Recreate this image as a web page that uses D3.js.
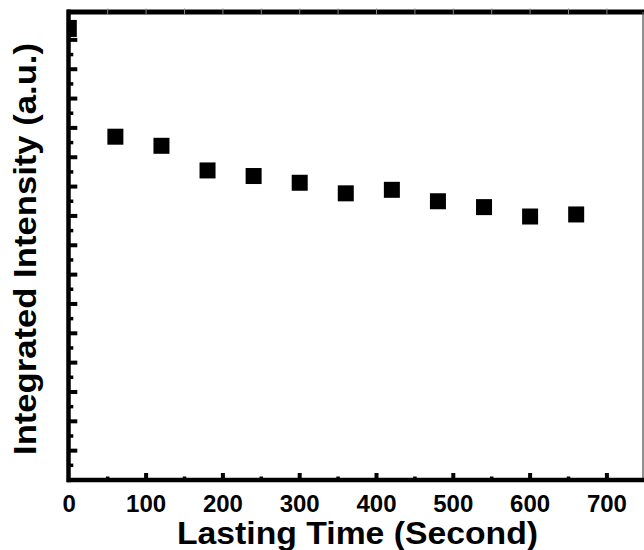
<!DOCTYPE html>
<html><head><meta charset="utf-8">
<script src="https://cdn.jsdelivr.net/npm/d3@7"></script>
<style>html,body{margin:0;padding:0;background:#fff;}svg{display:block;}</style>
</head><body>
<svg id="c" width="644" height="550"></svg>
<script>
const times = [60,120,180,240,300,360,420,480,540,600,660];
const intensity = [11.70,11.39,10.55,10.36,10.13,9.77,9.89,9.50,9.30,8.98,9.05];
const xTickValues = [0,100,200,300,400,500,600,700];
const xLabel = "Lasting Time (Second)";
const yLabel = "Integrated Intensity (a.u.)";

const svg = d3.select("#c");
const x = d3.scaleLinear().domain([0,747]).range([69.3,643]);
const y = d3.scaleLinear().domain([0,15.95]).range([480,12]);
const FONT = "'Liberation Sans', Arial, Helvetica, sans-serif";

// frame: top thick, right thin gray
svg.append("line").attr("x1",x(0)-2).attr("x2",644).attr("y1",y(15.95)).attr("y2",y(15.95))
  .attr("stroke","#000").attr("stroke-width",5);
// faint top ticks
const topTicks = d3.range(50,747,50);
svg.append("g").selectAll("line").data(topTicks).join("line")
  .attr("x1",d=>x(d)).attr("x2",d=>x(d)).attr("y1",y(15.95)-3.5).attr("y2",y(15.95)+2.5)
  .attr("stroke","#888").attr("stroke-width",1);
svg.append("line").attr("x1",x(747)).attr("x2",x(747)).attr("y1",y(15.95)).attr("y2",y(0))
  .attr("stroke","#555").attr("stroke-width",1.3);

// bottom axis
const xMajor = d3.range(0,747,100), xMinor = d3.range(50,747,100);
svg.append("g").selectAll("line").data(xMajor.filter(d=>d>0)).join("line")
  .attr("x1",d=>x(d)).attr("x2",d=>x(d)).attr("y1",y(0)).attr("y2",y(0)-7)
  .attr("stroke","#000").attr("stroke-width",4);
svg.append("g").selectAll("line").data(xMinor).join("line")
  .attr("x1",d=>x(d)).attr("x2",d=>x(d)).attr("y1",y(0)).attr("y2",y(0)-3.5)
  .attr("stroke","#000").attr("stroke-width",3.5);
svg.append("line").attr("x1",x(0)-2.2).attr("x2",644).attr("y1",y(0)).attr("y2",y(0))
  .attr("stroke","#000").attr("stroke-width",4.5);

// left axis
const yMajor = d3.range(1,16,1), yMinor = d3.range(0.5,15.6,1);
svg.append("g").selectAll("line").data(yMajor).join("line")
  .attr("x1",x(0)).attr("x2",x(0)+8).attr("y1",d=>y(d)).attr("y2",d=>y(d))
  .attr("stroke","#000").attr("stroke-width",4);
svg.append("g").selectAll("line").data(yMinor).join("line")
  .attr("x1",x(0)).attr("x2",x(0)+4).attr("y1",d=>y(d)).attr("y2",d=>y(d))
  .attr("stroke","#000").attr("stroke-width",3.5);
// dark block near top of axis
const blk = [15.1,15.68];
svg.append("rect").attr("x",x(0)-2).attr("width",9.5).attr("y",y(blk[1])).attr("height",y(blk[0])-y(blk[1]))
  .attr("fill","#000");
svg.append("line").attr("x1",x(0)-0.8).attr("x2",x(0)-0.8).attr("y1",y(15.95)-2.5).attr("y2",y(0)+2.2)
  .attr("stroke","#000").attr("stroke-width",4.5);

// tick labels
svg.append("g").selectAll("text").data(xTickValues).join("text")
  .attr("x",d=>x(d)).attr("y",511.7).attr("text-anchor","middle")
  .attr("font-family",FONT).attr("font-weight","bold").attr("font-size",24)
  .text(d=>d);

// axis titles
svg.append("text").attr("x",357.5).attr("y",543.5).attr("text-anchor","middle")
  .attr("font-family",FONT).attr("font-weight","bold").attr("font-size",31)
  .attr("textLength",361).attr("lengthAdjust","spacingAndGlyphs").text(xLabel);
svg.append("text").attr("transform","translate(36,249) rotate(-90)").attr("text-anchor","middle")
  .attr("font-family",FONT).attr("font-weight","bold").attr("font-size",31)
  .attr("textLength",412).attr("lengthAdjust","spacingAndGlyphs").text(yLabel);

// data markers
const S = 16;
svg.append("g").selectAll("rect").data(times.map((t,i)=>[t,intensity[i]])).join("rect")
  .attr("x",d=>x(d[0])-S/2).attr("y",d=>y(d[1])-S/2).attr("width",S).attr("height",S)
  .attr("fill","#000");
</script>
</body></html>
